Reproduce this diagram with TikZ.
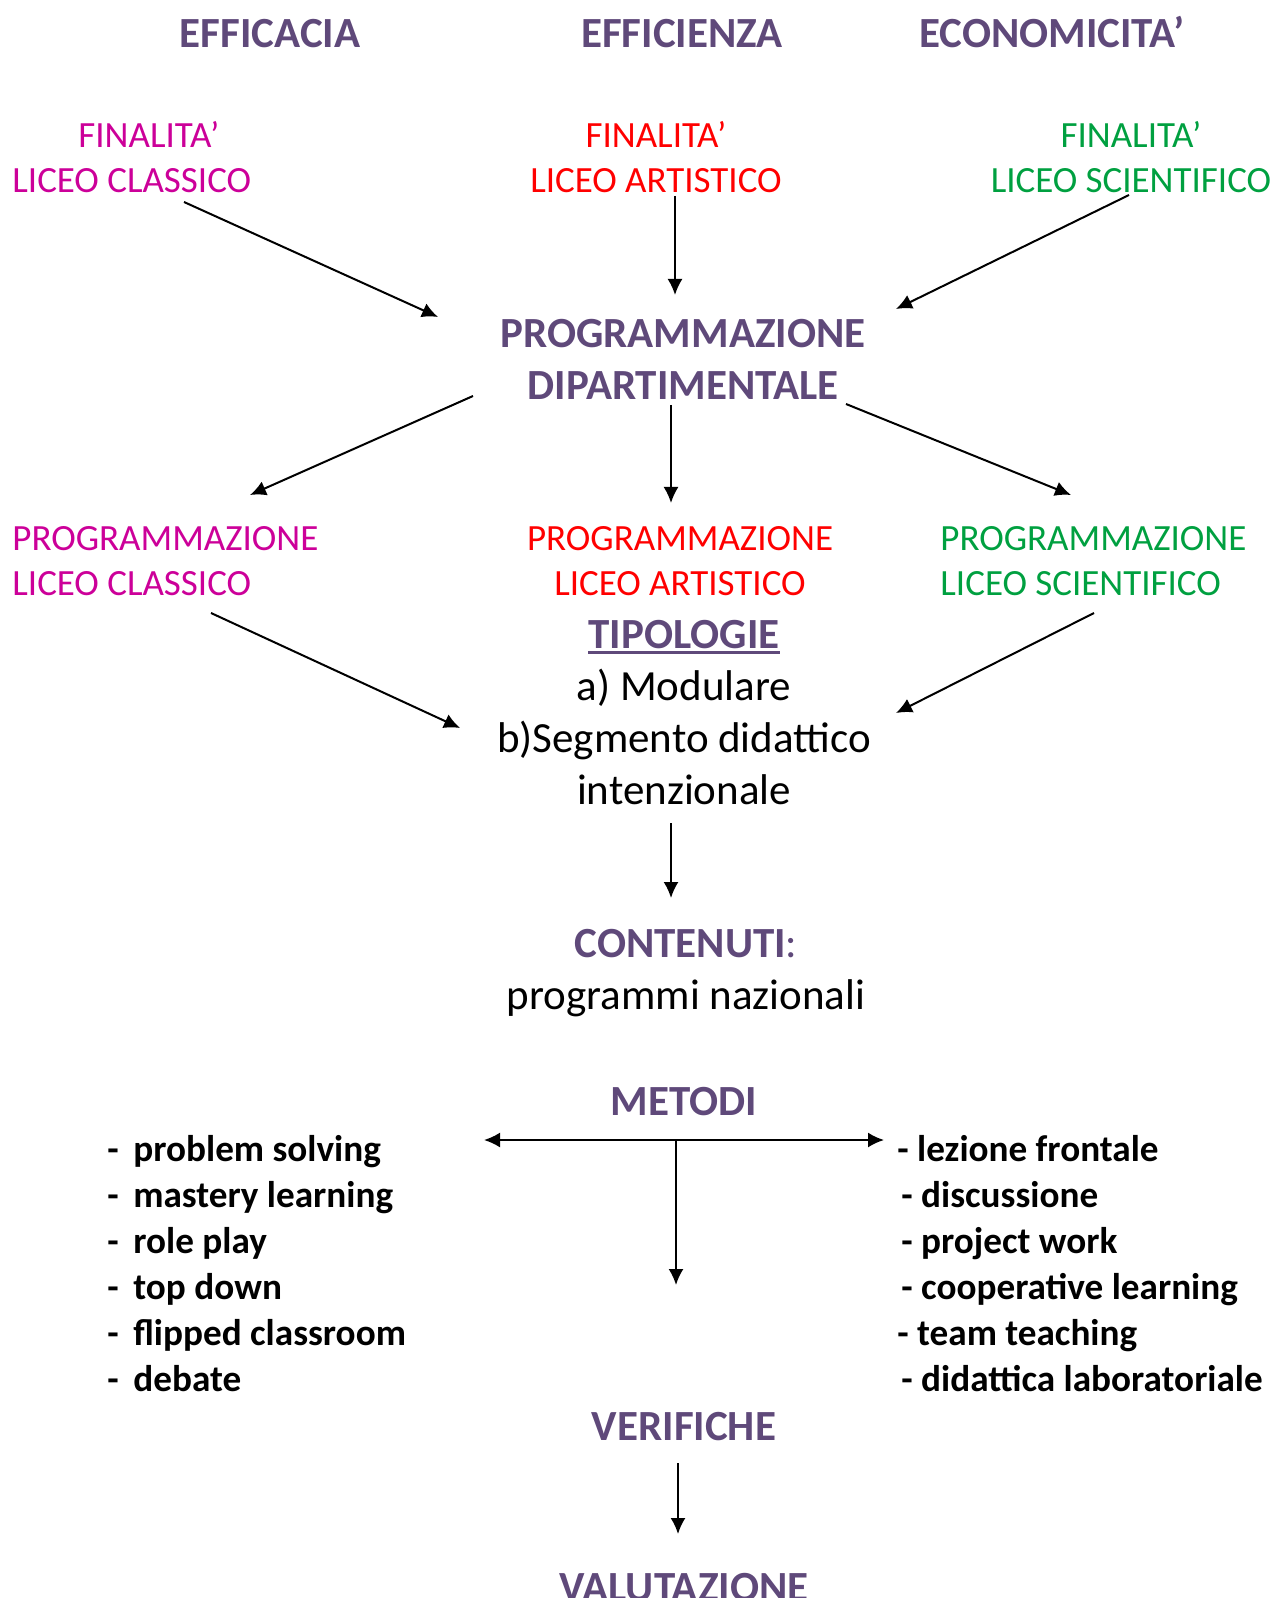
\documentclass[tikz,border=0pt]{standalone}
\usepackage{fontspec}
\setmainfont{Carlito}
\usepackage{xcolor}
\usetikzlibrary{positioning,arrows.meta}
\definecolor{cHead}{HTML}{5F497A}
\definecolor{cClass}{HTML}{CC0099}
\definecolor{cArt}{HTML}{FF0000}
\definecolor{cSci}{HTML}{00A040}
\newcommand{\thickul}[1]{\setbox0\hbox{#1}\rlap{\rule[-3pt]{\wd0}{1.6pt}}\box0}
\newcommand{\dashl}{\makebox[13pt][l]{-}}
\tikzset{
  head/.style={inner sep=0pt,align=center,text=cHead,font=\fontsize{21.5}{26}\selectfont\bfseries},
  cnode/.style={inner sep=0pt,font=\fontsize{18.5}{22.5}\selectfont},
  body/.style={inner sep=0pt,align=center,font=\fontsize{21.5}{26}\selectfont},
  item/.style={inner sep=0pt,anchor=base west,align=left,font=\fontsize{18.6}{23}\selectfont\bfseries},
  arr/.style={-{Latex[length=8pt,width=7.5pt]},line width=1pt},
  darr/.style={{Latex[length=8pt,width=7.5pt]}-{Latex[length=8pt,width=7.5pt]},line width=1pt}}

\begin{document}
\begin{tikzpicture}[x=0.5pt,y=-0.5pt]
\useasboundingbox (0,0) rectangle (1275,1598);
% the three criteria
\node[head,anchor=base] (efficacia) at (270,48) {EFFICACIA};
\node[head,anchor=base] (efficienza) at (682,48) {EFFICIENZA};
\node[head,anchor=base] (economicita) at (1052,48) {ECONOMICITA’};
% aims of each school (base = last line)
\node[cnode,text=cClass,align=left,anchor=base west] (finclass) at (12,193) {\hspace*{33pt}FINALITA’\\LICEO CLASSICO};
\node[cnode,text=cArt,align=center,anchor=base] (finart) at (656,193) {FINALITA’\\LICEO ARTISTICO};
\node[cnode,text=cSci,align=center,anchor=base] (finsci) at (1131,193) {FINALITA’\\LICEO SCIENTIFICO};
\node[head,anchor=base] (progdip) at (683,400) {PROGRAMMAZIONE\\DIPARTIMENTALE};
% school plans
\node[cnode,text=cClass,align=left,anchor=base west] (progclass) at (12,595) {PROGRAMMAZIONE\\LICEO CLASSICO};
\node[cnode,text=cArt,align=center,anchor=base] (progart) at (680,595) {PROGRAMMAZIONE\\LICEO ARTISTICO};
\node[cnode,text=cSci,align=left,anchor=base west] (progsci) at (940,595) {PROGRAMMAZIONE\\LICEO SCIENTIFICO};
\node[body,anchor=base] (tipologie) at (684,804) {\textcolor{cHead}{\bfseries\thickul{TIPOLOGIE}}\\a) Modulare\\b)Segmento didattico\\intenzionale};
\node[body,anchor=base] (contenuti) at (686,1009) {\textcolor{cHead}{\textbf{CONTENUTI}:}\\programmi nazionali};
% methods
\node[head,anchor=base] (metodi) at (684,1115) {METODI};
\node[item] (metleft) at (107,1391) {\dashl problem solving\\\dashl mastery learning\\\dashl role play\\\dashl top down\\\dashl flipped classroom\\\dashl debate};
\node[item] (metright) at (897,1391) {- lezione frontale\\\hspace*{2pt}- discussione\\\hspace*{2pt}- project work\\\hspace*{2pt}- cooperative learning\\- team teaching\\\hspace*{2pt}- didattica laboratoriale};
\node[head,anchor=base] (verifiche) at (684,1440) {VERIFICHE};
\node[head,anchor=base] (valutazione) at (684,1601) {VALUTAZIONE};
% arrow ends
\coordinate (fc) at (184,202); \coordinate (pd1) at (438,317);
\coordinate (fa) at (675,196); \coordinate (pd2) at (675,295);
\coordinate (fs) at (1129,195); \coordinate (pd3) at (896,309);
\coordinate (pd4) at (473,396); \coordinate (pc) at (250,495);
\coordinate (pd5) at (671,405); \coordinate (pa) at (671,503);
\coordinate (pd6) at (846,404); \coordinate (ps) at (1071,495);
\coordinate (pc2) at (211,613); \coordinate (tp1) at (460,728);
\coordinate (ps2) at (1094,613); \coordinate (tp2) at (896,713);
\coordinate (tp3) at (671,823); \coordinate (ct) at (671,898);
\coordinate (ml) at (484,1140); \coordinate (mr) at (884,1140);
\coordinate (mc) at (676,1141); \coordinate (mv) at (676,1285);
\coordinate (vf) at (678,1463); \coordinate (vl) at (678,1534);
\draw[arr] (fc)--(pd1); \draw[arr] (fa)--(pd2); \draw[arr] (fs)--(pd3);
\draw[arr] (pd4)--(pc); \draw[arr] (pd5)--(pa); \draw[arr] (pd6)--(ps);
\draw[arr] (pc2)--(tp1); \draw[arr] (ps2)--(tp2); \draw[arr] (tp3)--(ct);
\draw[darr] (ml)--(mr); \draw[arr] (mc)--(mv);
\draw[arr] (vf)--(vl);
\end{tikzpicture}
\end{document}
